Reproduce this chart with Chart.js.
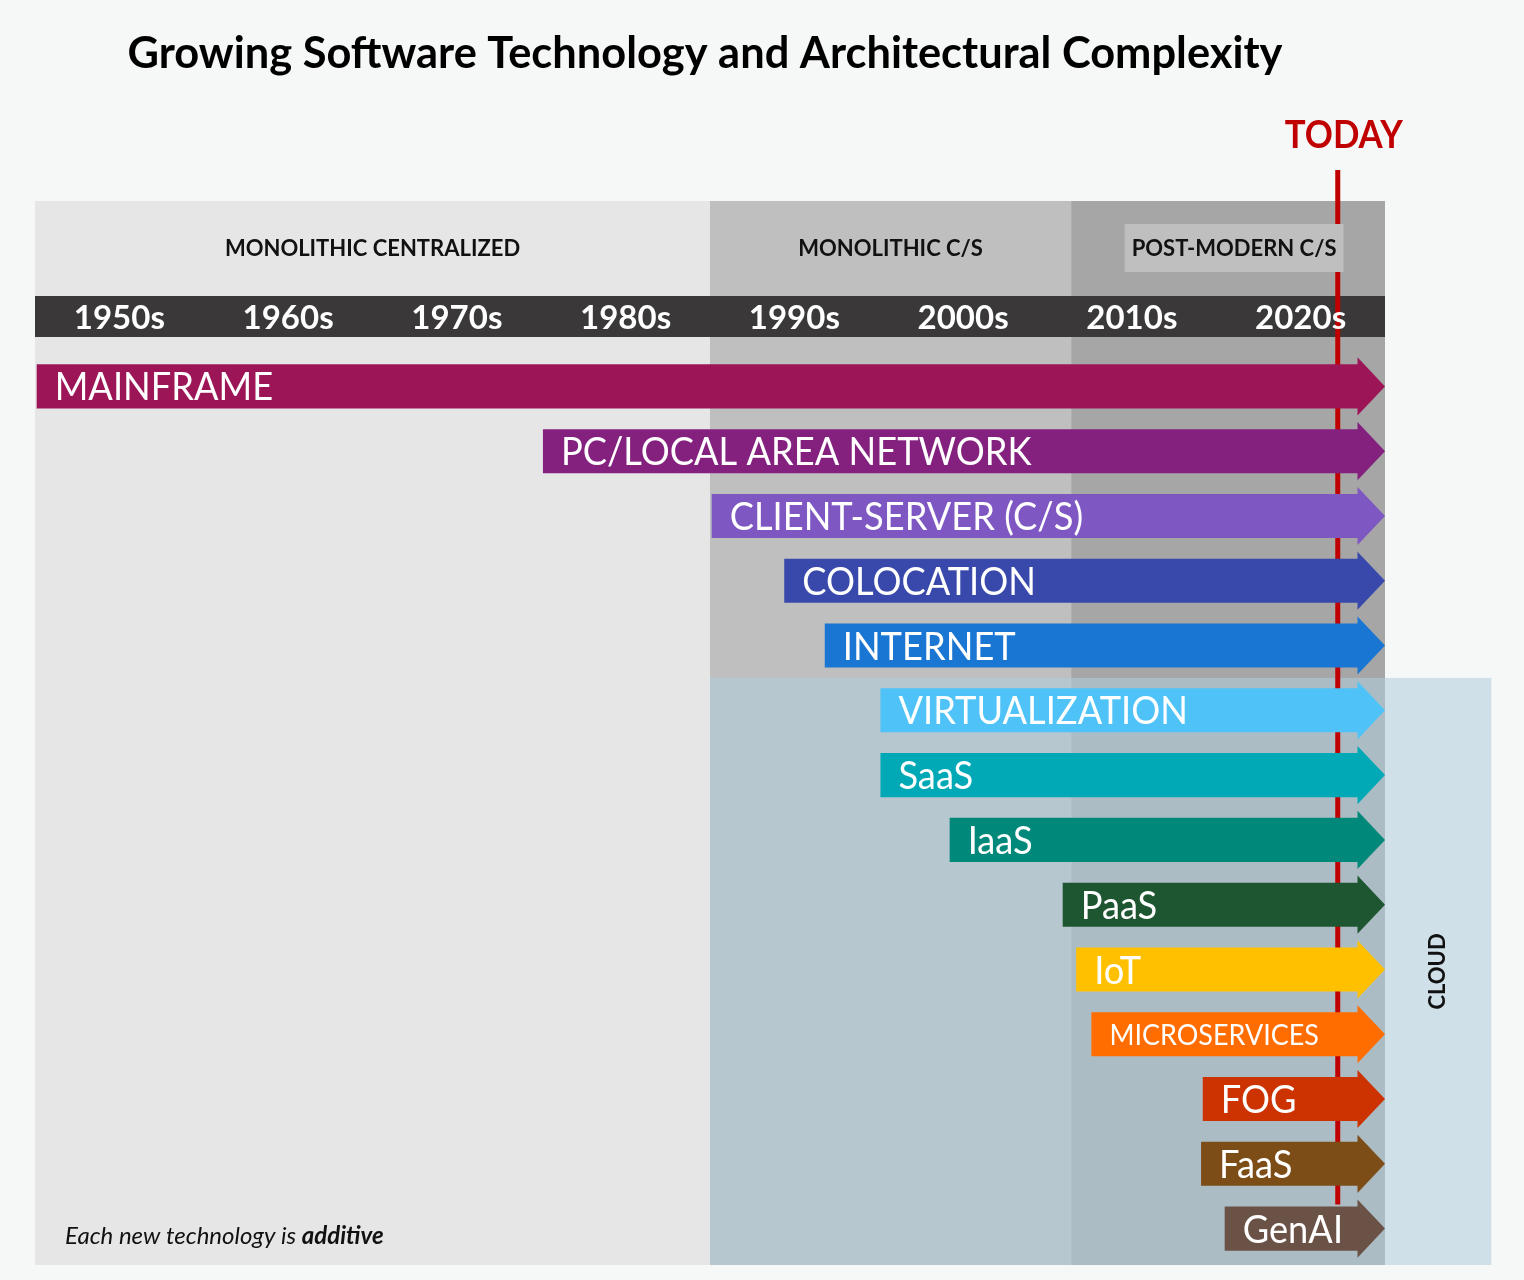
<!DOCTYPE html>
<html>
<head>
<meta charset="utf-8">
<script src="https://cdn.jsdelivr.net/npm/chart.js@4.4.1/dist/chart.umd.min.js"></script>
<style>
  html, body { margin: 0; padding: 0; background: #f6f7f7; }
  #wrap { width: 1524px; height: 1280px; position: relative; }
</style>
</head>
<body>
<div id="wrap"><canvas id="timeline-chart"></canvas></div>
<script>
// technologies, top to bottom, and the year each one starts
const techs = ['MAINFRAME', 'PC/LOCAL AREA NETWORK', 'CLIENT-SERVER (C/S)', 'COLOCATION', 'INTERNET',
    'VIRTUALIZATION', 'SaaS', 'IaaS', 'PaaS', 'IoT', 'MICROSERVICES', 'FOG', 'FaaS', 'GenAI'];
const startYears = [1950.1, 1980.1, 1990.1, 1994.4, 1996.8, 2000.1, 2000.1, 2004.2, 2010.9, 2011.7, 2012.6, 2019.2, 2019.1, 2020.5];
const bodyEnd = 2028.4;   // where the arrow head begins
const arrowTip = 2030;

const decades = ['1950s', '1960s', '1970s', '1980s', '1990s', '2000s', '2010s', '2020s'];

const eraLabels = ['MONOLITHIC CENTRALIZED', 'MONOLITHIC C/S', 'POST-MODERN C/S'];
const eraStarts = [1950, 1990, 2011.4];
const eraEnds = [1990, 2011.4, 2030];

const todayYear = 2027.2;
const cloudStart = 1990;
const cloudEnd = 2036.3;
const cloudFirstTech = 'VIRTUALIZATION';

const barColors = ['#9c1657', '#84217f', '#7e57c2', '#3949ab', '#1976d2', '#4fc3f7', '#00a9b5', '#00897b',
    '#1f5632', '#ffc000', '#ff6d00', '#cc3300', '#7d4d18', '#6b5247'];
const eraColors = ['#e6e6e6', '#bfbfbf', '#a6a6a6'];

const FONT = 'Lato, "Open Sans", sans-serif';

function drawText(ctx, str, x, y, font, color, align, maxWidth, scaleX) {
    ctx.save();
    ctx.font = font;
    ctx.fillStyle = color;
    ctx.textAlign = align || 'left';
    ctx.textBaseline = 'alphabetic';
    ctx.translate(x, y);
    if (scaleX) ctx.scale(scaleX, 1);
    if (maxWidth) ctx.fillText(str, 0, 0, maxWidth);
    else ctx.fillText(str, 0, 0);
    ctx.restore();
}

const timelinePlugin = {
    id: 'timeline',
    beforeDatasetsDraw(chart) {
        const { ctx, chartArea: a, scales: { x, y } } = chart;
        const eraTop = a.top - 153;
        const bgBottom = a.bottom + 4;

        ctx.save();
        // era backgrounds
        eraStarts.forEach((s, i) => {
            const x0 = x.getPixelForValue(s);
            const x1 = x.getPixelForValue(eraEnds[i]);
            ctx.fillStyle = eraColors[i];
            ctx.fillRect(x0, eraTop, x1 - x0, bgBottom - eraTop);
        });

        // cloud overlay
        const ci = techs.indexOf(cloudFirstTech);
        const cloudTop = (y.getPixelForValue(ci - 1) + y.getPixelForValue(ci)) / 2;
        const cx0 = x.getPixelForValue(cloudStart);
        const cx1 = x.getPixelForValue(cloudEnd);
        ctx.fillStyle = 'rgba(178,205,219,0.57)';
        ctx.fillRect(cx0, cloudTop, cx1 - cx0, bgBottom - cloudTop);

        // decade band
        ctx.fillStyle = '#3a3838';
        ctx.fillRect(x.left, a.top - 58, x.right - x.left, 41);

        // today line
        const tx = x.getPixelForValue(todayYear);
        ctx.strokeStyle = '#c00000';
        ctx.lineWidth = 5;
        ctx.beginPath();
        ctx.moveTo(tx, eraTop - 31);
        ctx.lineTo(tx, y.getPixelForValue(techs.length - 1) - 24);
        ctx.stroke();
        ctx.restore();

        // decade labels
        decades.forEach(d => {
            const mid = parseInt(d, 10) + 5;
            drawText(ctx, d, x.getPixelForValue(mid), a.top - 25, 'bold 33px ' + FONT, '#ffffff', 'center');
        });

        // era labels
        eraLabels.forEach((lab, i) => {
            let cx = (x.getPixelForValue(eraStarts[i]) + x.getPixelForValue(eraEnds[i])) / 2;
            const font = 'bold 22px ' + FONT;
            if (i === eraLabels.length - 1) {
                cx += 6;
                ctx.save();
                ctx.font = font;
                const w = ctx.measureText(lab).width + 14;
                ctx.fillStyle = '#bfbfbf';
                ctx.fillRect(cx - w / 2, a.top - 130, w, 48);
                ctx.restore();
            }
            drawText(ctx, lab, cx, a.top - 98, font, '#111111', 'center');
        });

        // title
        drawText(ctx, 'Growing Software Technology and Architectural Complexity', 705, 68,
            'bold 44px ' + FONT, '#000000', 'center', 1155);

        // TODAY
        drawText(ctx, 'TODAY', tx + 6, 148, 'bold 38px ' + FONT, '#c00000', 'center', 118);

        // CLOUD label
        ctx.save();
        ctx.translate((x.right + cx1) / 2, (cloudTop + bgBottom) / 2);
        ctx.rotate(-Math.PI / 2);
        ctx.font = 'bold 22px ' + FONT;
        ctx.fillStyle = '#111111';
        ctx.textAlign = 'center';
        ctx.textBaseline = 'middle';
        ctx.fillText('CLOUD', 0, 0);
        ctx.restore();

        // footnote
        ctx.save();
        ctx.font = 'italic 24px ' + FONT;
        ctx.fillStyle = '#111111';
        const fx = x.left + 30, fy = a.bottom - 17;
        const part1 = 'Each new technology is ';
        ctx.fillText(part1, fx, fy);
        const w1 = ctx.measureText(part1).width;
        ctx.font = 'italic bold 24px ' + FONT;
        ctx.fillText('additive', fx + w1, fy);
        ctx.restore();
    },
    afterDatasetsDraw(chart) {
        const { ctx, scales: { x } } = chart;
        const meta = chart.getDatasetMeta(0);
        const tipPx = x.getPixelForValue(arrowTip);
        meta.data.forEach((bar, i) => {
            const p = bar.getProps(['x', 'y', 'base', 'height'], true);
            const half = p.height * 0.66;
            ctx.save();
            ctx.fillStyle = barColors[i];
            ctx.beginPath();
            ctx.moveTo(p.x - 0.5, p.y - half);
            ctx.lineTo(tipPx, p.y);
            ctx.lineTo(p.x - 0.5, p.y + half);
            ctx.closePath();
            ctx.fill();
            ctx.restore();

            const size = techs[i] === 'MICROSERVICES' ? 29 : 39;
            drawText(ctx, techs[i], p.base + 18, p.y + size * 0.36, size + 'px ' + FONT, '#ffffff', 'left', null, 0.93);
        });
    }
};

new Chart(document.getElementById('timeline-chart'), {
    type: 'bar',
    data: {
        labels: techs,
        datasets: [{
            data: startYears.map(s => [s, bodyEnd]),
            backgroundColor: barColors,
            borderWidth: 0,
            borderSkipped: false,
            barPercentage: 0.68,
            categoryPercentage: 1
        }]
    },
    options: {
        indexAxis: 'y',
        responsive: true,
        maintainAspectRatio: false,
        animation: false,
        layout: { padding: { left: 35, right: 139, top: 354, bottom: 19 } },
        scales: {
            x: { type: 'linear', min: 1950, max: 2030, display: false },
            y: { type: 'category', display: false }
        },
        plugins: {
            legend: { display: false },
            tooltip: { enabled: false }
        }
    },
    plugins: [timelinePlugin]
});
</script>
</body>
</html>
